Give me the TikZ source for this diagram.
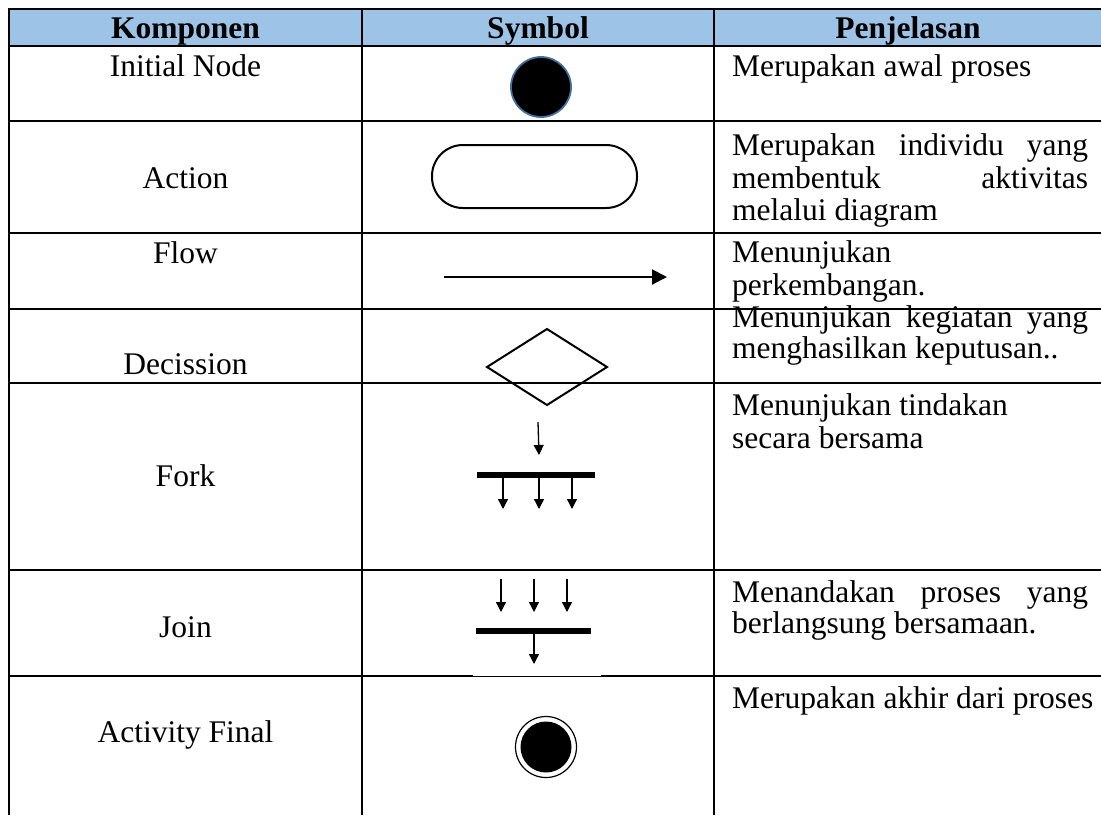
\documentclass[tikz,border=0pt]{standalone}
\usepackage{fontspec}
\setmainfont{Liberation Serif}
\usetikzlibrary{arrows.meta}
\definecolor{headblue}{HTML}{9DC3E6}
\definecolor{ringblue}{HTML}{41719C}
\newcommand{\jline}[1]{\makebox[356pt][s]{#1}}
\begin{document}
\begin{tikzpicture}[x=1pt,y=-1pt,
  rule/.style={line width=2.2pt},
  thinrule/.style={line width=1pt},
  txt/.style={inner sep=0pt, font=\fontsize{31.5}{33}\selectfont},
  lbl/.style={txt, anchor=base},
  desc/.style={txt, anchor=base west},
  head/.style={txt, anchor=base, font=\fontsize{31.5}{33}\selectfont\bfseries},
  flowarrow/.style={line width=2pt, -{Triangle[length=15pt,width=15pt]}},
  smallarrow/.style={line width=1.3pt, -{Triangle[length=10pt,width=10pt]}},
  barstyle/.style={fill=black, draw=none}
]
\useasboundingbox (0,0) rectangle (1101,815);
\fill[white] (0,0) rectangle (1101,815);

% header band
\fill[headblue] (9,9) rectangle (1101,46);

% table rules
\draw[rule] (9,9) -- (1101,9);
\draw[rule] (9,46) -- (1101,46);
\draw[rule] (9,121) -- (1101,121);
\draw[rule] (9,233) -- (1101,233);
\draw[rule] (9,309) -- (1101,309);
\draw[rule] (9,383) -- (1101,383);
\draw[rule] (9,570) -- (1101,570);
\draw[rule] (9,676) -- (473,676);
\draw[thinrule] (473,676) -- (601,676);
\draw[rule] (601,676) -- (1101,676);
\draw[rule] (9,7.9) -- (9,815);
\draw[rule] (362,7.9) -- (362,815);
\draw[rule] (714,7.9) -- (714,815);

% header texts
\node[head] (h1) at (185.5,38.5) {Komponen};
\node[head] (h2) at (538,38.5) {Symbol};
\node[head] (h3) at (908,38.5) {Penjelasan};

% component names
\node[lbl] (c1) at (185.5,76) {Initial Node};
\node[lbl] (c2) at (185.5,188) {Action};
\node[lbl] (c3) at (185.5,263) {Flow};
\node[lbl] (c4) at (185.5,374) {Decission};
\node[lbl] (c5) at (185.5,486) {Fork};
\node[lbl] (c6) at (185.5,637) {Join};
\node[lbl] (c7) at (185.5,742) {Activity Final};

% descriptions
\node[desc] (d1) at (732,76) {Merupakan awal proses};
\node[desc] (d2a) at (732,155) {\jline{Merupakan individu yang}};
\node[desc] (d2b) at (732,188) {\jline{membentuk aktivitas}};
\node[desc] (d2c) at (732,220) {melalui diagram};
\node[desc] (d3a) at (732,262) {Menunjukan};
\node[desc] (d3b) at (732,295) {perkembangan.};
\node[desc] (d4a) at (732,327) {\jline{Menunjukan kegiatan yang}};
\node[desc] (d4b) at (732,358) {menghasilkan keputusan..};
\node[desc] (d5a) at (732,415) {Menunjukan tindakan};
\node[desc] (d5b) at (732,448) {secara bersama};
\node[desc] (d6a) at (732,602) {\jline{Menandakan proses yang}};
\node[desc] (d6b) at (732,633) {berlangsung bersamaan.};
\node[desc] (d7) at (732,708) {Merupakan akhir dari proses};

% initial node
\node[circle, fill=black, draw=ringblue, line width=1.8pt,
      minimum size=60pt, inner sep=0pt] (init) at (541,87) {};

% action
\node[draw, line width=2pt, rounded corners=31pt,
      minimum width=205pt, minimum height=63pt, inner sep=0pt] (act) at (534.5,176.5) {};

% flow
\coordinate (fs) at (444,277);
\coordinate (fe) at (667,277);
\draw[flowarrow] (fs) -- (fe);

% decision
\draw[line width=2pt, line join=miter] (487,367) -- (547,329) -- (607,367) -- (547,405) -- cycle;

% fork
\node[barstyle, minimum width=118pt, minimum height=6pt, inner sep=0pt] (forkbar) at (536,475) {};
\coordinate (fin) at (538,422);
\coordinate (fin2) at (539,455);
\draw[smallarrow] (fin) -- (fin2);
\coordinate (fo1) at (503,509);
\coordinate (fo2) at (539,509);
\coordinate (fo3) at (572,509);
\draw[smallarrow] (forkbar.south -| fo1) -- (fo1);
\draw[smallarrow] (forkbar.south -| fo2) -- (fo2);
\draw[smallarrow] (forkbar.south -| fo3) -- (fo3);

% join
\node[barstyle, minimum width=115pt, minimum height=6pt, inner sep=0pt] (joinbar) at (533.5,631) {};
\coordinate (ji1) at (501,579);
\coordinate (ji2) at (534,579);
\coordinate (ji3) at (567,579);
\coordinate (je1) at (501,612);
\coordinate (je2) at (534,612);
\coordinate (je3) at (567,612);
\draw[smallarrow] (ji1) -- (je1);
\draw[smallarrow] (ji2) -- (je2);
\draw[smallarrow] (ji3) -- (je3);
\coordinate (jout) at (534,664);
\draw[smallarrow] (joinbar.south -| jout) -- (jout);

% activity final
\node[circle, draw=black, line width=1.2pt, minimum size=61pt, inner sep=0pt] (fin-ring) at (546,747) {};
\node[circle, fill=black, minimum size=51pt, inner sep=0pt] (fin-dot) at (fin-ring.center) {};
\end{tikzpicture}
\end{document}
